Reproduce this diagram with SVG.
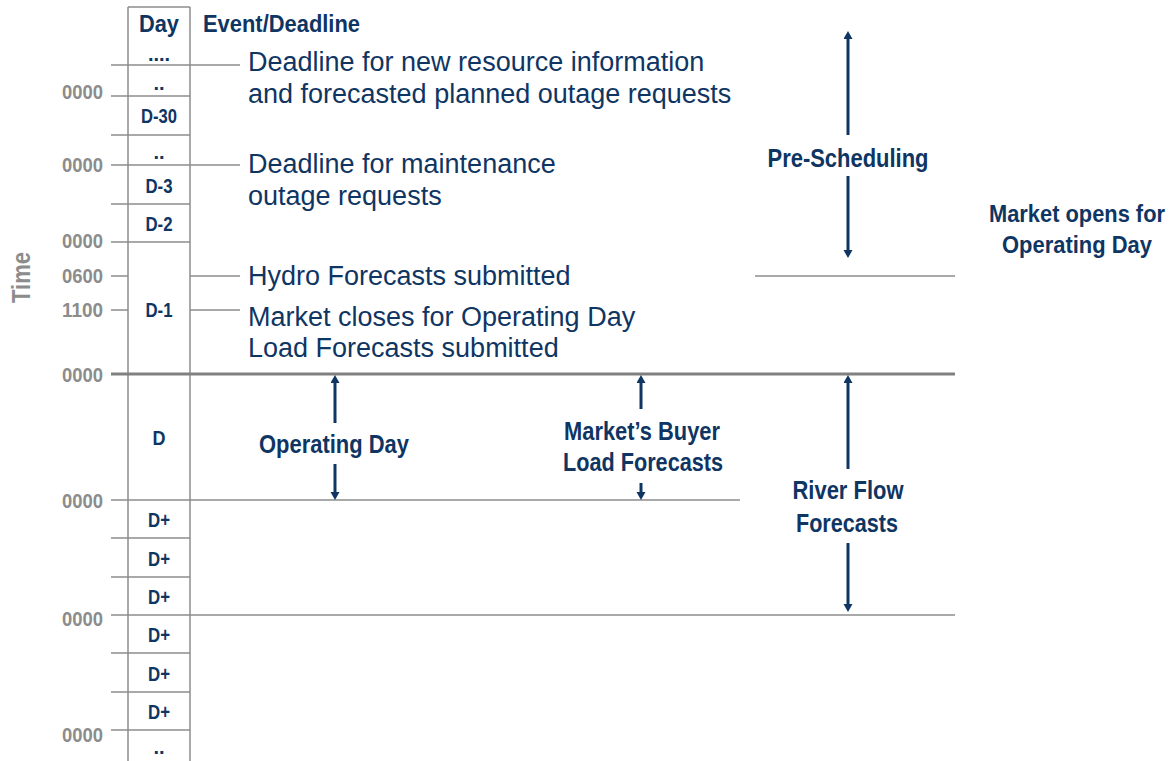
<svg xmlns="http://www.w3.org/2000/svg" width="1174" height="761" viewBox="0 0 1174 761">
<style>
.bg{fill:#ffffff}
.grid{stroke:#8c8c8c;stroke-width:1.5;fill:none}
.thick{stroke:#808080;stroke-width:3;fill:none}
.arrow{stroke:#0f3563;stroke-width:3;fill:none;marker-end:url(#ah)}
.time{font-family:"Liberation Sans",Arial,sans-serif;font-weight:bold;font-size:20px;fill:#8c8c8c;text-anchor:end}
.cell{font-family:"Liberation Sans",Arial,sans-serif;font-weight:bold;font-size:20px;fill:#0f3563;text-anchor:middle}
.hdr{font-family:"Liberation Sans",Arial,sans-serif;font-weight:bold;font-size:24px;fill:#0f3563}
.ev{font-family:"Liberation Sans",Arial,sans-serif;font-size:27px;fill:#0f3563}
.lbl{font-family:"Liberation Sans",Arial,sans-serif;font-weight:bold;font-size:26px;fill:#0f3563;text-anchor:middle}
.lbl2{font-family:"Liberation Sans",Arial,sans-serif;font-weight:bold;font-size:23px;fill:#0f3563;text-anchor:middle}
</style>
<defs>
<marker id="ah" markerUnits="userSpaceOnUse" markerWidth="10" markerHeight="10" refX="1" refY="4.5" orient="auto">
<path d="M0,0 L8,4.5 L0,9 z" fill="#0f3563"/>
</marker>
</defs>
<rect class="bg" x="0" y="0" width="1174" height="761"/>

<g id="connectors">
<line class="grid" x1="128" y1="7" x2="190" y2="7"/>
<line class="grid" x1="128" y1="7" x2="128" y2="761"/>
<line class="grid" x1="190" y1="7" x2="190" y2="761"/>
<line class="grid" x1="111" y1="65" x2="240" y2="65"/>
<line class="grid" x1="111" y1="96" x2="190" y2="96"/>
<line class="grid" x1="111" y1="135" x2="190" y2="135"/>
<line class="grid" x1="111" y1="165" x2="240" y2="165"/>
<line class="grid" x1="111" y1="204" x2="190" y2="204"/>
<line class="grid" x1="111" y1="242" x2="190" y2="242"/>
<line class="grid" x1="111" y1="276" x2="128" y2="276"/>
<line class="grid" x1="190" y1="276" x2="240" y2="276"/>
<line class="grid" x1="111" y1="310" x2="128" y2="310"/>
<line class="grid" x1="190" y1="310" x2="240" y2="310"/>
<line class="grid" x1="755" y1="276" x2="955" y2="276"/>
<line class="thick" x1="111" y1="374" x2="955" y2="374"/>
<line class="grid" x1="111" y1="500" x2="740" y2="500"/>
<line class="grid" x1="111" y1="538" x2="190" y2="538"/>
<line class="grid" x1="111" y1="577" x2="190" y2="577"/>
<line class="grid" x1="111" y1="615" x2="955" y2="615"/>
<line class="grid" x1="111" y1="653" x2="190" y2="653"/>
<line class="grid" x1="111" y1="692" x2="190" y2="692"/>
<line class="grid" x1="111" y1="730" x2="190" y2="730"/>
<line class="arrow" x1="848" y1="135" x2="848" y2="38"/>
<line class="arrow" x1="848" y1="176" x2="848" y2="251"/>
<line class="arrow" x1="335" y1="423" x2="335" y2="382"/>
<line class="arrow" x1="335" y1="464" x2="335" y2="493"/>
<line class="arrow" x1="641" y1="409" x2="641" y2="382"/>
<line class="arrow" x1="641" y1="483" x2="641" y2="493"/>
<line class="arrow" x1="848" y1="469" x2="848" y2="382"/>
<line class="arrow" x1="848" y1="543" x2="848" y2="605"/>
</g>

<g id="time-axis">
<text transform="translate(30,277.5) rotate(-90)" font-family="Liberation Sans, Arial, sans-serif" font-weight="bold" font-size="26" fill="#8c8c8c" text-anchor="middle" textLength="51" lengthAdjust="spacingAndGlyphs">Time</text>
<text class="time" x="103" y="99" textLength="41" lengthAdjust="spacingAndGlyphs">0000</text>
<text class="time" x="103" y="172" textLength="41" lengthAdjust="spacingAndGlyphs">0000</text>
<text class="time" x="103" y="248" textLength="41" lengthAdjust="spacingAndGlyphs">0000</text>
<text class="time" x="103" y="283" textLength="41" lengthAdjust="spacingAndGlyphs">0600</text>
<text class="time" x="103" y="317" textLength="41" lengthAdjust="spacingAndGlyphs">1100</text>
<text class="time" x="103" y="382" textLength="41" lengthAdjust="spacingAndGlyphs">0000</text>
<text class="time" x="103" y="508" textLength="41" lengthAdjust="spacingAndGlyphs">0000</text>
<text class="time" x="103" y="626" textLength="41" lengthAdjust="spacingAndGlyphs">0000</text>
<text class="time" x="103" y="742" textLength="41" lengthAdjust="spacingAndGlyphs">0000</text>
</g>

<g id="day-column">
<text class="hdr" x="159" y="32" text-anchor="middle" textLength="40" lengthAdjust="spacingAndGlyphs">Day</text>
<text class="cell" x="159" y="61">....</text>
<text class="cell" x="159" y="90">..</text>
<text class="cell" x="159" y="123" textLength="36" lengthAdjust="spacingAndGlyphs">D-30</text>
<text class="cell" x="159" y="159">..</text>
<text class="cell" x="159" y="193" textLength="27" lengthAdjust="spacingAndGlyphs">D-3</text>
<text class="cell" x="159" y="231" textLength="27" lengthAdjust="spacingAndGlyphs">D-2</text>
<text class="cell" x="159" y="317" textLength="27" lengthAdjust="spacingAndGlyphs">D-1</text>
<text class="cell" x="159" y="445" textLength="13" lengthAdjust="spacingAndGlyphs">D</text>
<text class="cell" x="159" y="527" textLength="22" lengthAdjust="spacingAndGlyphs">D+</text>
<text class="cell" x="159" y="566" textLength="22" lengthAdjust="spacingAndGlyphs">D+</text>
<text class="cell" x="159" y="604" textLength="22" lengthAdjust="spacingAndGlyphs">D+</text>
<text class="cell" x="159" y="642" textLength="22" lengthAdjust="spacingAndGlyphs">D+</text>
<text class="cell" x="159" y="681" textLength="22" lengthAdjust="spacingAndGlyphs">D+</text>
<text class="cell" x="159" y="719" textLength="22" lengthAdjust="spacingAndGlyphs">D+</text>
<text class="cell" x="159" y="754">..</text>
</g>

<g id="events">
<text class="hdr" x="203" y="32" textLength="157" lengthAdjust="spacingAndGlyphs">Event/Deadline</text>
<text class="ev" x="248" y="71">Deadline for new resource information</text>
<text class="ev" x="248" y="103">and forecasted planned outage requests</text>
<text class="ev" x="248" y="173">Deadline for maintenance</text>
<text class="ev" x="248" y="205">outage requests</text>
<text class="ev" x="248" y="285">Hydro Forecasts submitted</text>
<text class="ev" x="248" y="326">Market closes for Operating Day</text>
<text class="ev" x="248" y="357">Load Forecasts submitted</text>
</g>

<g id="pre-scheduling">
<text class="lbl" x="848" y="167" textLength="161" lengthAdjust="spacingAndGlyphs">Pre-Scheduling</text>
</g>
<g id="market-opens">
<text class="lbl2" x="1077" y="222" textLength="176" lengthAdjust="spacingAndGlyphs">Market opens for</text>
<text class="lbl2" x="1077" y="253" textLength="150" lengthAdjust="spacingAndGlyphs">Operating Day</text>
</g>
<g id="operating-day">
<text class="lbl" x="334" y="453" textLength="150" lengthAdjust="spacingAndGlyphs">Operating Day</text>
</g>
<g id="buyer-load">
<text class="lbl" x="642" y="440" textLength="156" lengthAdjust="spacingAndGlyphs">Market’s Buyer</text>
<text class="lbl" x="643" y="471" textLength="160" lengthAdjust="spacingAndGlyphs">Load Forecasts</text>
</g>
<g id="river-flow">
<text class="lbl" x="848" y="499" textLength="111" lengthAdjust="spacingAndGlyphs">River Flow</text>
<text class="lbl" x="847" y="532" textLength="102" lengthAdjust="spacingAndGlyphs">Forecasts</text>
</g>
</svg>
